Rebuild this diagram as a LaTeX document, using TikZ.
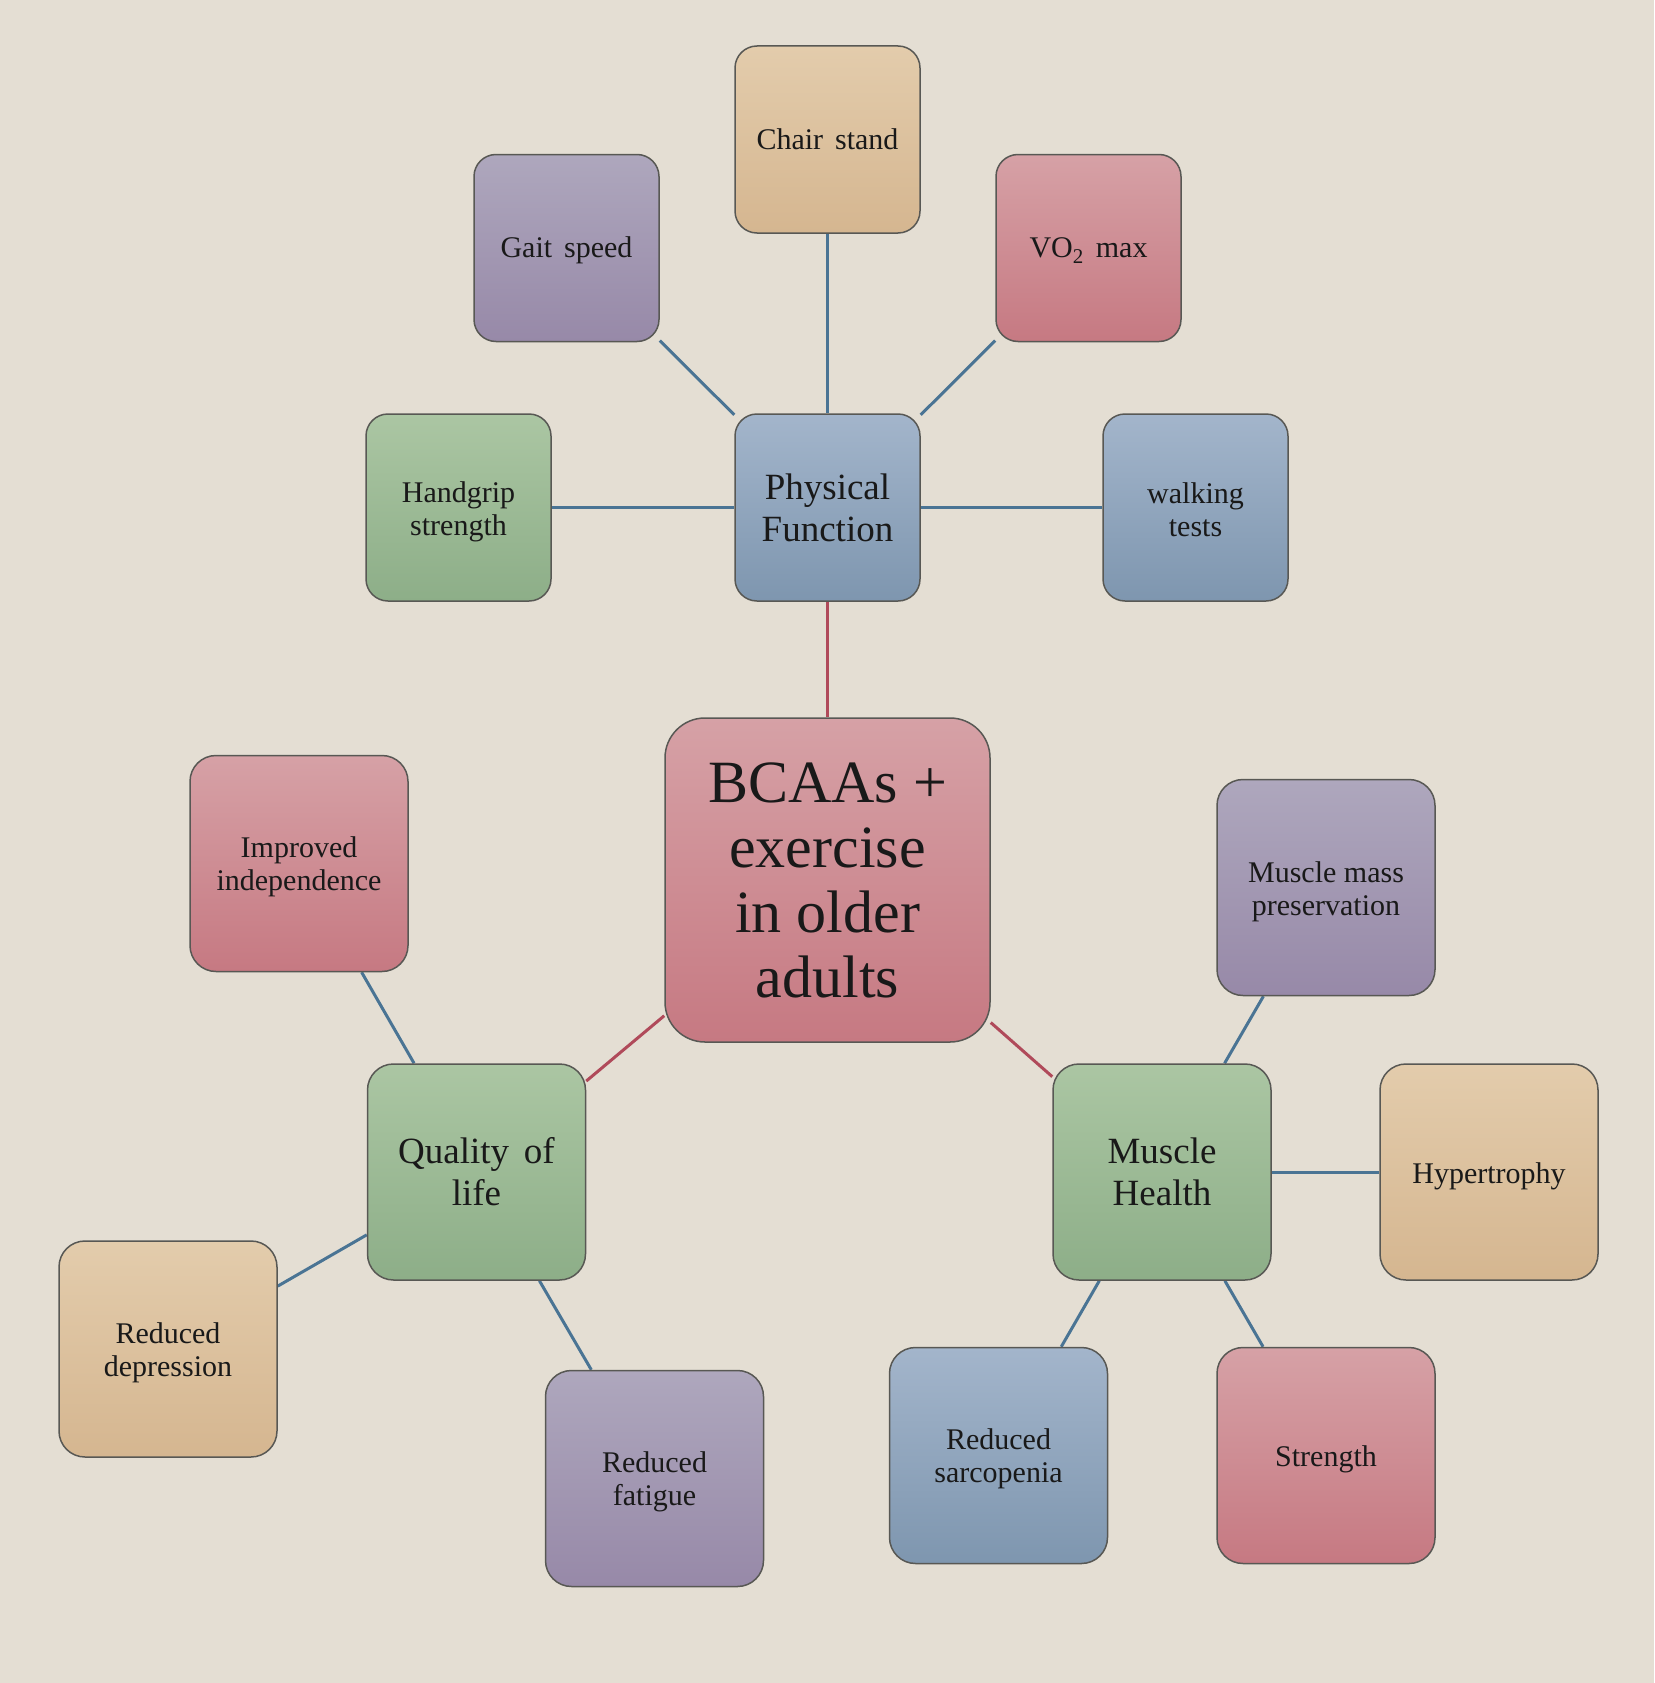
\documentclass[tikz,border=0pt]{standalone}
\usepackage{fontspec}
\setmainfont{Liberation Serif}
\definecolor{bgc}{RGB}{228,222,211}
\definecolor{boxline}{RGB}{88,88,84}
\definecolor{subline}{RGB}{74,116,148}
\definecolor{mainline}{RGB}{176,74,90}
\definecolor{txt}{RGB}{25,25,25}
\definecolor{tanT}{RGB}{227,204,172}
\definecolor{tanB}{RGB}{213,182,144}
\definecolor{pinkT}{RGB}{214,161,166}
\definecolor{pinkB}{RGB}{198,121,130}
\definecolor{blueT}{RGB}{163,181,203}
\definecolor{blueB}{RGB}{126,150,175}
\definecolor{greenT}{RGB}{171,198,163}
\definecolor{greenB}{RGB}{141,174,136}
\definecolor{purT}{RGB}{174,167,189}
\definecolor{purB}{RGB}{151,137,168}
\newcommand\lowby[1]{\rule{0pt}{#1}}
\pgfdeclarelayer{back}
\pgfdeclarelayer{lines}
\pgfsetlayers{back,lines,main}
\tikzset{
  box/.style={draw=boxline, line width=1.5pt, rounded corners=22pt,
    minimum width=185pt, minimum height=187pt, inner sep=0pt, align=center,
    text=txt, font=\fontsize{30}{33}\selectfont},
  bigbox/.style={box, rounded corners=26pt, minimum width=218pt, minimum height=216pt},
  hubfont/.style={font=\fontsize{37}{42}\selectfont},
  centerbox/.style={box, rounded corners=40pt, minimum width=325pt, minimum height=324pt,
    font=\fontsize{60}{65}\selectfont},
  tanf/.style={top color=tanT, bottom color=tanB},
  pinkf/.style={top color=pinkT, bottom color=pinkB},
  bluef/.style={top color=blueT, bottom color=blueB},
  greenf/.style={top color=greenT, bottom color=greenB},
  purf/.style={top color=purT, bottom color=purB},
  sublink/.style={draw=subline, line width=3pt},
  mainlink/.style={draw=mainline, line width=3pt}
}
\begin{document}
\begin{tikzpicture}[x=1pt,y=-1pt]
\begin{pgfonlayer}{back}
\fill[bgc] (0,0) rectangle (1654,1683);
\end{pgfonlayer}
\useasboundingbox (0,0) rectangle (1654,1683);
\node[box,tanf] (chair) at (827.5,139.5) {Chair\hspace{0.4em}stand};
\node[box,purf] (gait) at (566.5,248) {\lowby{25pt}Gait\hspace{0.4em}speed};
\node[box,pinkf] (vo2) at (1088.5,248) {\lowby{25pt}VO\textsubscript{2}\hspace{0.4em}max};
\node[box,greenf] (hand) at (458.5,507.5) {\lowby{29pt}Handgrip\\strength};
\node[box,bluef,hubfont] (pf) at (827.5,507.5) {Physical\\Function};
\node[box,bluef] (walk) at (1195.5,507.5) {\lowby{26pt}walking\\tests};
\node[centerbox,pinkf] (bcaa) at (827.5,880) {BCAAs +\\exercise\\in older\\adults};
\node[bigbox,pinkf] (indep) at (299,863.5) {\lowby{27pt}Improved\\independence};
\node[bigbox,purf] (mass) at (1326,887.5) {\lowby{29pt}Muscle mass\\preservation};
\node[bigbox,greenf,hubfont] (qol) at (476.5,1172) {Quality\hspace{0.4em}of\\life};
\node[bigbox,greenf,hubfont] (mh) at (1162,1172) {Muscle\\Health};
\node[bigbox,tanf] (hyper) at (1489,1172) {\lowby{29pt}Hypertrophy};
\node[bigbox,tanf] (dep) at (168,1349) {\lowby{29pt}Reduced\\depression};
\node[bigbox,purf] (fat) at (654.5,1478.5) {\lowby{27pt}Reduced\\fatigue};
\node[bigbox,bluef] (sarc) at (998.5,1455.5) {\lowby{27pt}Reduced\\sarcopenia};
\node[bigbox,pinkf] (str) at (1326,1455.5) {\lowby{29pt}Strength};
\begin{pgfonlayer}{lines}
\draw[sublink] (chair) -- (pf);
\draw[sublink] (gait) -- (pf);
\draw[sublink] (vo2) -- (pf);
\draw[sublink] (hand) -- (pf);
\draw[sublink] (walk) -- (pf);
\draw[mainlink] (bcaa) -- (pf);
\draw[mainlink] (bcaa) -- (qol);
\draw[mainlink] (bcaa) -- (mh);
\draw[sublink] (indep) -- (qol);
\draw[sublink] (dep) -- (qol);
\draw[sublink] (fat) -- (qol);
\draw[sublink] (mass) -- (mh);
\draw[sublink] (hyper) -- (mh);
\draw[sublink] (sarc) -- (mh);
\draw[sublink] (str) -- (mh);
\end{pgfonlayer}
\end{tikzpicture}
\end{document}
